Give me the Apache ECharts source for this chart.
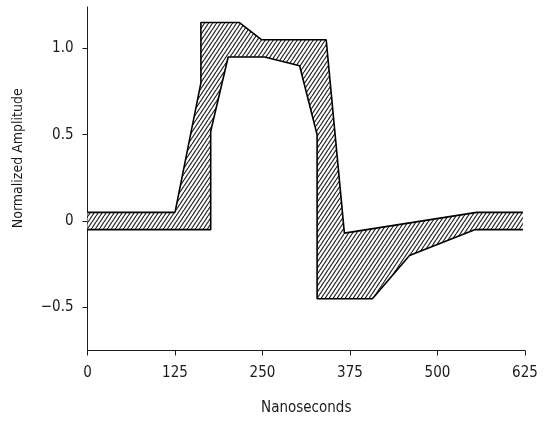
<!DOCTYPE html>
<html>
<head>
<meta charset="utf-8">
<script src="https://cdn.jsdelivr.net/npm/echarts@6/dist/echarts.min.js"></script>
<style>
html,body{margin:0;padding:0;background:#fff;}
#chart{width:544px;height:424px;}
</style>
</head>
<body>
<div id="chart"></div>
<script>
// Upper mask boundary (time in ns, normalized amplitude)
const upperT = [0, 125, 162, 162, 217, 249, 341, 367, 556, 622];
const upperV = [0.05, 0.05, 0.8, 1.15, 1.15, 1.05, 1.05, -0.07, 0.05, 0.05];
// Lower mask boundary
const lowerT = [0, 176, 176, 201, 253, 303, 328, 328, 407, 460, 553, 622];
const lowerV = [-0.05, -0.05, 0.52, 0.95, 0.95, 0.9, 0.5, -0.45, -0.45, -0.2, -0.05, -0.05];
// Axis ticks
const xTicks = [0, 125, 250, 375, 500, 625];
const yTicks = [-0.5, 0, 0.5, 1.0];

const FONT = "'DejaVu Sans Condensed', 'Liberation Sans Narrow', sans-serif";
const INK = '#1a1a1a';

function hatch() {
  const w = 4, h = 6;
  const c = document.createElement('canvas');
  c.width = w; c.height = h;
  const ctx = c.getContext('2d');
  ctx.fillStyle = '#fff';
  ctx.fillRect(0, 0, w, h);
  ctx.strokeStyle = '#222';
  ctx.lineWidth = 1.2;
  ctx.beginPath();
  for (let k = -1; k <= 1; k++) {
    ctx.moveTo(k * w, h);
    ctx.lineTo(k * w + w, 0);
  }
  ctx.stroke();
  return c;
}
const pattern = { image: hatch(), repeat: 'repeat' };

const upperData = upperT.map((t, i) => [t, upperV[i]]);
const lowerData = lowerT.map((t, i) => [t, lowerV[i]]);

const chart = echarts.init(document.getElementById('chart'), null, { renderer: 'canvas' });
chart.setOption({
  animation: false,
  backgroundColor: '#fff',
  grid: { left: 87.5, right: 19, top: 7, bottom: 73.5 },
  xAxis: {
    type: 'value', min: 0, max: 625, interval: 125,
    name: 'Nanoseconds', nameLocation: 'middle', nameGap: 50,
    nameTextStyle: { fontFamily: FONT, fontSize: 15, color: INK },
    axisLine: { show: true, onZero: false, lineStyle: { color: INK, width: 1 } },
    axisTick: { show: true, length: 5, lineStyle: { color: INK } },
    axisLabel: { fontFamily: FONT, fontSize: 15, color: INK, margin: 15, customValues: xTicks },
    splitLine: { show: false }
  },
  yAxis: {
    type: 'value', min: -0.75, max: 1.24,
    name: 'Normalized Amplitude', nameLocation: 'middle', nameGap: 62, nameRotate: 90,
    nameTextStyle: { fontFamily: FONT, fontSize: 14, color: INK, padding: [0, 0, 0, 41] },
    axisLine: { show: true, onZero: false, lineStyle: { color: INK, width: 1 } },
    axisTick: { show: true, length: 5, lineStyle: { color: INK }, customValues: yTicks },
    axisLabel: {
      fontFamily: FONT, fontSize: 15, color: INK, margin: 14, customValues: yTicks,
      formatter: v => (Math.abs(v) < 1e-9 ? '0' : v.toFixed(1).replace('-', '\u2212'))
    },
    splitLine: { show: false }
  },
  series: [
    {
      type: 'custom',
      silent: true,
      data: [0],
      renderItem: function (params, api) {
        const pts = [];
        for (let i = 0; i < upperT.length; i++) pts.push(api.coord([upperT[i], upperV[i]]));
        for (let i = lowerT.length - 1; i >= 0; i--) pts.push(api.coord([lowerT[i], lowerV[i]]));
        return { type: 'polygon', shape: { points: pts }, style: { fill: pattern, stroke: null } };
      },
      z: 1
    },
    {
      type: 'line', data: upperData, symbol: 'none', silent: true,
      lineStyle: { color: '#000', width: 1.6 }, z: 3
    },
    {
      type: 'line', data: lowerData, symbol: 'none', silent: true,
      lineStyle: { color: '#000', width: 1.6 }, z: 3
    }
  ]
});
</script>
</body>
</html>
